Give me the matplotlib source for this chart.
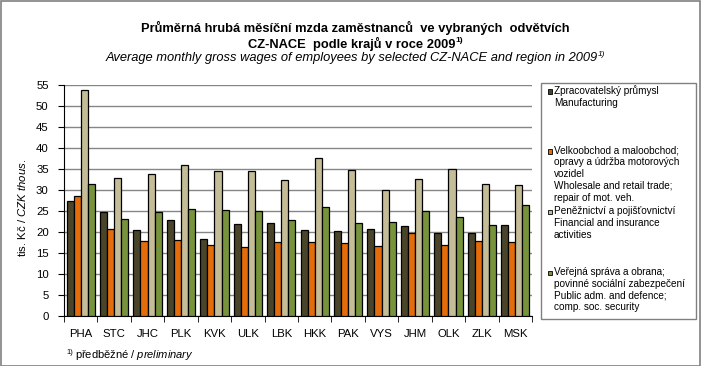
import numpy as np
import matplotlib
matplotlib.use("Agg")
import matplotlib.pyplot as plt
from matplotlib.patches import Rectangle

plt.rcParams['font.family'] = ['Liberation Sans', 'DejaVu Sans']
plt.rcParams['mathtext.fontset'] = 'custom'
plt.rcParams['mathtext.rm'] = 'Liberation Sans'
plt.rcParams['mathtext.it'] = 'Liberation Sans:italic'
plt.rcParams['mathtext.bf'] = 'Liberation Sans:bold'

# kraje
regions = ["PHA", "STC", "JHC", "PLK", "KVK", "ULK", "LBK",
           "HKK", "PAK", "VYS", "JHM", "OLK", "ZLK", "MSK"]

# tis. Kč
manufacturing = [27.3, 24.7, 20.4, 22.8, 18.3, 21.9, 22.1,
                 20.4, 20.2, 20.7, 21.4, 19.9, 19.9, 21.6]
trade = [28.5, 20.7, 18.0, 18.2, 16.9, 16.4, 17.6,
         17.6, 17.3, 16.6, 19.7, 16.9, 17.8, 17.6]
finance = [53.7, 32.8, 33.7, 36.0, 34.4, 34.4, 32.3,
           37.5, 34.7, 29.9, 32.5, 34.9, 31.3, 31.1]
public = [31.5, 23.0, 24.7, 25.6, 25.3, 24.9, 22.8,
          25.9, 22.1, 22.3, 24.9, 23.7, 21.8, 26.4]

series_labels = [
    "Zpracovatelský průmysl\nManufacturing",
    "Velkoobchod a maloobchod;\nopravy a údržba motorových\nvozidel\nWholesale and retail trade;\nrepair of mot. veh.",
    "Peněžnictví a pojišťovnictví\nFinancial and insurance\nactivities",
    "Veřejná správa a obrana;\npovinné sociální zabezpečení\nPublic adm. and defence;\ncomp. soc. security",
]
colors = ["#4A452A", "#E46C0A", "#C4BD97", "#77933C"]

W, H = 701, 366
fig = plt.figure(figsize=(W / 100, H / 100), dpi=100)
fig.patches.append(Rectangle((0.5 / W, 0.5 / H), 1 - 1.5 / W, 1 - 1.5 / H,
                             transform=fig.transFigure, fill=False,
                             edgecolor="#808080", lw=1.2))

ax = fig.add_axes([64 / W, 1 - 316.3 / H, (532 - 64) / W, (316.3 - 84.7) / H])

x = np.arange(len(regions))
bw = 0.212
data = [manufacturing, trade, finance, public]
for i, (vals, col) in enumerate(zip(data, colors)):
    ax.bar(x + (i - 1.5) * bw, vals, bw, color=col, edgecolor="black",
           linewidth=0.9, zorder=3)

ax.set_xlim(-0.5, len(regions) - 0.5)
ax.set_ylim(0, 55)
ax.set_yticks(np.arange(0, 56, 5))
ax.yaxis.grid(True, color="#868686", lw=1.0)
ax.set_axisbelow(True)
for s in ["top", "right"]:
    ax.spines[s].set_visible(False)

ax.set_xticks(x)
ax.set_xticklabels(regions, fontsize=8.2)
ax.set_xticks(np.arange(-0.5, len(regions), 1), minor=True)
ax.tick_params(axis="x", which="major", length=0, pad=9)
ax.tick_params(axis="x", which="minor", length=4, direction="out")
ax.tick_params(axis="y", length=4, direction="out", labelsize=8.2, pad=7)

fig.text(22 / W, 1 - 208 / H, r"tis. Kč / $\mathit{CZK\ thous.}$",
         rotation=90, ha="center", va="center", fontsize=8.2)

# nadpis
cx = 355 / W
t1 = fig.text(cx, 1 - 28 / H,
              "Průměrná hrubá měsíční mzda zaměstnanců  ve vybraných  odvětvích",
              ha="center", va="center", fontsize=9.3, fontweight="bold")
t2 = fig.text(cx - 3 / W, 1 - 44 / H, "CZ-NACE  podle krajů v roce 2009",
              ha="center", va="center", fontsize=9.3, fontweight="bold")
t3 = fig.text(cx - 3 / W, 1 - 58.5 / H,
              "Average monthly gross wages of employees by selected CZ-NACE and region in 2009",
              ha="center", va="center", fontsize=9.3, style="italic")

renderer = fig.canvas.get_renderer()
inv = fig.transFigure.inverted()
for t, st, dy in [(t2, "normal", -0.5), (t3, "italic", 1.5)]:
    bb = t.get_window_extent(renderer)
    px, py = inv.transform((bb.x1 - 0.5, bb.y1 + dy))
    fig.text(px, py, "1)", ha="left", va="top", fontsize=6,
             fontweight="bold" if t is t2 else "normal", style=st)

fig.text(66 / W, 1 - 352 / H, "1)", ha="left", va="center", fontsize=5.5)
fig.text(75 / W, 1 - 354.5 / H, r"předběžné / $\mathit{preliminary}$",
         ha="left", va="center", fontsize=8)

# legenda
fig.patches.append(Rectangle((541 / W, 1 - 319 / H), (696 - 541) / W, (319 - 83) / H,
                             transform=fig.transFigure, fill=False,
                             edgecolor="#808080", lw=1.0))
entry_y = [91, 151, 211.7, 272.7]
for lab, col, y in zip(series_labels, colors, entry_y):
    fig.patches.append(Rectangle((547.5 / W, 1 - (y + 2.5) / H), 4.5 / W, 4.5 / H,
                                 transform=fig.transFigure, facecolor=col,
                                 edgecolor="black", lw=0.6))
    fig.text(554 / W, 1 - (y - 5.5) / H, lab, ha="left", va="top",
             fontsize=7.2, linespacing=1.22)

fig.savefig("out.png", dpi=100)
